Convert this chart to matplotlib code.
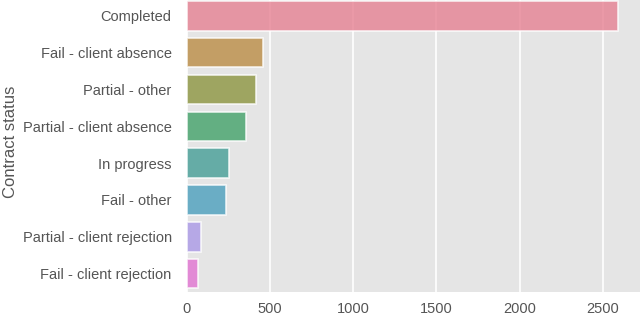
import matplotlib
matplotlib.use("Agg")
import matplotlib.pyplot as plt
import seaborn as sns

categories = ["Completed", "Fail - client absence", "Partial - other",
              "Partial - client absence", "In progress", "Fail - other",
              "Partial - client rejection", "Fail - client rejection"]
counts = [2590, 460, 414, 354, 252, 234, 86, 70]

plt.style.use("ggplot")
plt.rcParams['font.family'] = ['Liberation Sans', 'DejaVu Sans']

fig = plt.figure(figsize=(6.4, 3.16), dpi=100)
ax = fig.add_axes([186.7 / 640, (316 - 292) / 316, (640 - 186.7) / 640, 294.5 / 316])

palette = sns.color_palette("husl", len(categories))
sns.barplot(x=counts, y=categories, hue=categories, palette=palette,
            saturation=0.75, legend=False, ax=ax, orient="h", alpha=0.8,
            edgecolor=(1, 1, 1, 0.3), linewidth=1.2)

ax.set_xlim(0, 2724)
ax.set_xticks([0, 500, 1000, 1500, 2000, 2500])
ax.yaxis.grid(False)
ax.xaxis.grid(True, color="white", linewidth=1.2)
ax.set_axisbelow(True)
ax.set_facecolor("#E5E5E5")
ax.tick_params(axis="y", length=0, labelsize=10.5, colors="#555555", pad=10.8)
ax.tick_params(axis="x", length=0, labelsize=10.5, colors="#555555", pad=7)
ax.set_ylabel("Contract status", fontsize=12, color="#555555")
ax.yaxis.set_label_coords(-0.372, 0.51)
ax.set_xlabel("")
for s in ax.spines.values():
    s.set_visible(False)

fig.savefig("out.png", dpi=100)
